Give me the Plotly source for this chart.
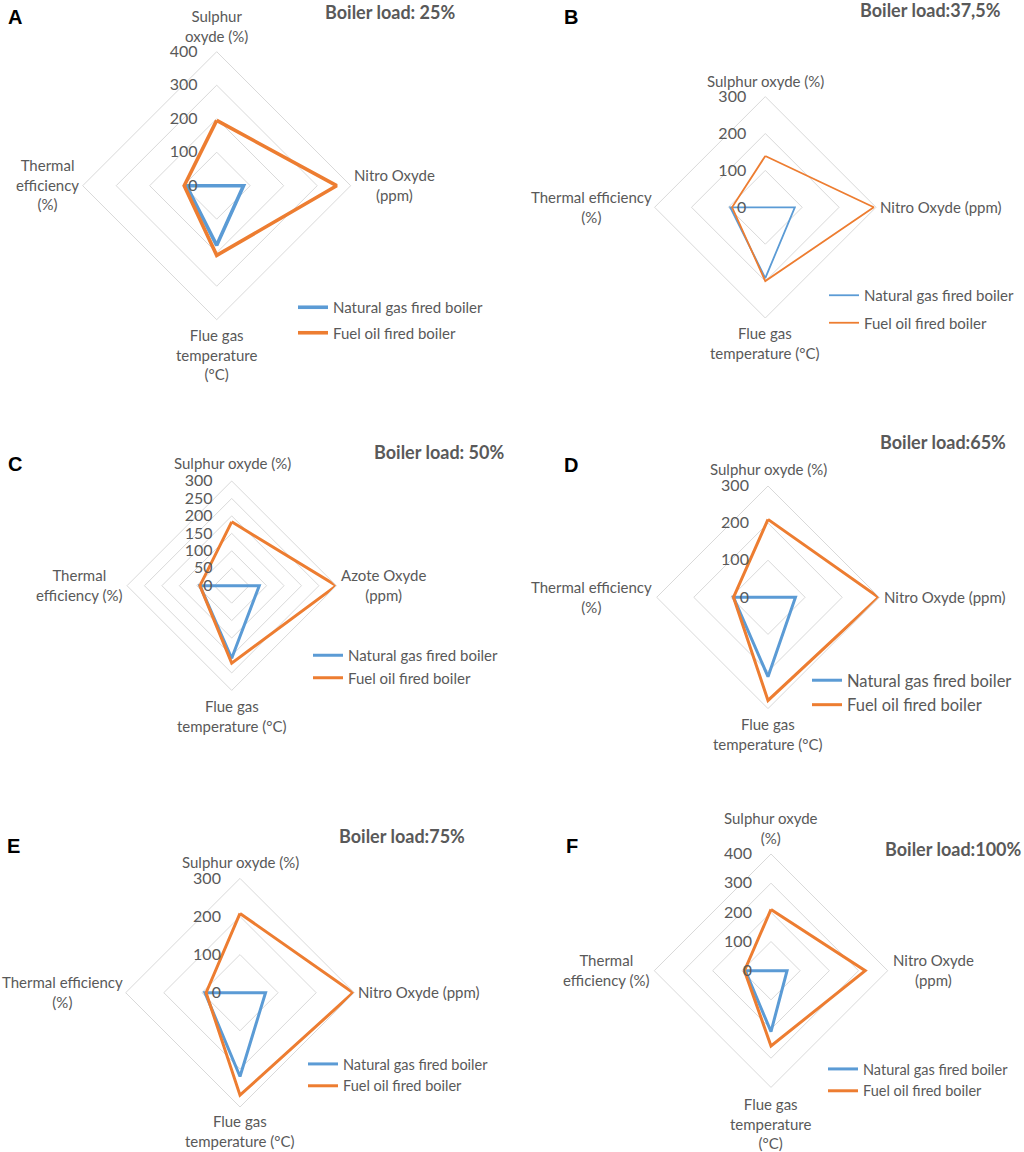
import plotly.graph_objects as go

W, H = 1024, 1152

# ---------------- data ----------------
categories = ["Sulphur oxyde (%)", "Nitro Oxyde (ppm)",
              "Flue gas temperature (°C)", "Thermal efficiency (%)"]
series_names = ["Natural gas fired boiler", "Fuel oil fired boiler"]

panel_letters = ["A", "B", "C", "D", "E", "F"]
panel_titles = ["Boiler load: 25%", "Boiler load:37,5%", "Boiler load: 50%",
                "Boiler load:65%", "Boiler load:75%", "Boiler load:100%"]

gas_A = [0, 80, 178, 90]
oil_A = [195, 358, 208, 97]
gas_B = [0, 80, 192, 95]
oil_B = [139, 294, 200, 90]
gas_C = [0, 79, 208, 91]
oil_C = [183, 300, 222, 91]
gas_D = [0, 74, 214, 93]
oil_D = [210, 298, 278, 93]
gas_E = [0, 67, 220, 92]
oil_E = [208, 297, 269, 89]
gas_F = [0, 55, 209, 88]
oil_F = [210, 323, 258, 91]

radial_max = [400, 300, 300, 300, 300, 400]
radial_step = [100, 100, 50, 100, 100, 100]

# axis label texts per panel (top, right, bottom, left)
axis_labels = [
    ["Sulphur<br>oxyde (%)", "Nitro Oxyde<br>(ppm)", "Flue gas<br>temperature<br>(°C)", "Thermal<br>efficiency<br>(%)"],
    ["Sulphur oxyde (%)", "Nitro Oxyde (ppm)", "Flue gas<br>temperature (°C)", "Thermal efficiency<br>(%)"],
    ["Sulphur oxyde (%)", "Azote Oxyde<br>(ppm)", "Flue gas<br>temperature (°C)", "Thermal<br>efficiency (%)"],
    ["Sulphur oxyde (%)", "Nitro Oxyde (ppm)", "Flue gas<br>temperature (°C)", "Thermal efficiency<br>(%)"],
    ["Sulphur oxyde (%)", "Nitro Oxyde (ppm)", "Flue gas<br>temperature (°C)", "Thermal efficiency<br>(%)"],
    ["Sulphur oxyde<br>(%)", "Nitro Oxyde<br>(ppm)", "Flue gas<br>temperature<br>(°C)", "Thermal<br>efficiency (%)"],
]

gas_all = [gas_A, gas_B, gas_C, gas_D, gas_E, gas_F]
oil_all = [oil_A, oil_B, oil_C, oil_D, oil_E, oil_F]

# ---------------- layout (pixels) ----------------
centers = [(216.7, 185.7), (765.3, 207.3), (231.7, 585.7),
           (768.0, 597.3), (240.0, 992.7), (771.0, 970.7)]
radii = [134, 110.7, 104.7, 111.3, 114.3, 116.7]
line_w = [3.6, 1.8, 3.0, 3.0, 3.0, 3.0]
label_pos = [  # top, right, bottom, left label centres
    [(216.7, 26), (394, 185), (217, 354), (47, 184)],
    [(765, 81), (941, 207), (765, 343), (591, 207)],
    [(232, 463), (383, 585), (232, 716), (79, 585)],
    [(768, 469), (945, 597), (768, 734), (591, 597)],
    [(240, 862), (419, 992), (240, 1131), (62, 992)],
    [(771, 828), (933, 970), (771, 1123), (606, 970)],
]
title_pos = [(390, 12), (930, 10), (439, 452), (943, 442), (402, 836), (953, 849)]
letter_pos = [(15, 17), (571, 17), (15, 464), (571, 465), (13, 846), (572, 846)]
legend_pos = [(293, 291), (824, 279), (308, 639), (807, 663), (303, 1048), (823, 1053)]
legend_gap = [3, 5, 0, 0, 0, 0]
legend_font = [15, 15, 15, 16.5, 14.5, 14.5]

BLUE = "#5B9BD5"
ORANGE = "#ED7D31"
GRID = "#D9D9D9"
TXT = "#595959"
FONT = "Lato, Carlito, Calibri, sans-serif"

fig = go.Figure()
annotations = []
layout_extra = {}

for i in range(6):
    pname = "polar" if i == 0 else f"polar{i+1}"
    lname = "legend" if i == 0 else f"legend{i+1}"
    cx, cy = centers[i]
    r = radii[i]
    for k, (name, vals, col) in enumerate([(series_names[0], gas_all[i], BLUE),
                                           (series_names[1], oil_all[i], ORANGE)]):
        fig.add_trace(go.Scatterpolar(
            r=vals + vals[:1],
            theta=categories + categories[:1],
            mode="lines",
            name=name,
            line=dict(color=col, width=line_w[i]),
            subplot=pname,
            legend=lname,
            legendgroup=f"{lname}_{k}",
            showlegend=True,
        ))
    ticks = list(range(0, radial_max[i] + 1, radial_step[i]))
    layout_extra[pname] = dict(
        domain=dict(x=[(cx - r) / W, (cx + r) / W],
                    y=[1 - (cy + r) / H, 1 - (cy - r) / H]),
        gridshape="linear",
        bgcolor="white",
        angularaxis=dict(
            type="category",
            categoryorder="array",
            categoryarray=categories,
            rotation=90,
            direction="clockwise",
            showline=True,
            linecolor=GRID,
            linewidth=1,
            showgrid=False,
            showticklabels=False,
            ticks="",
        ),
        radialaxis=dict(
            range=[0, radial_max[i]],
            tickvals=ticks,
            angle=90,
            tickangle=90,
            side="counterclockwise",
            showline=False,
            showgrid=True,
            gridcolor=GRID,
            gridwidth=1,
            ticks="outside",
            ticklen=13,
            tickcolor="rgba(0,0,0,0)",
            tickfont=dict(family=FONT, size=16, color=TXT),
        ),
    )
    lx, ly = legend_pos[i]
    layout_extra[lname] = dict(
        x=lx / W, y=1 - ly / H, xanchor="left", yanchor="top",
        bgcolor="rgba(0,0,0,0)",
        font=dict(family=FONT, size=legend_font[i], color=TXT),
        itemwidth=30,
        tracegroupgap=legend_gap[i],
    )
    for (px, py), txt in zip(label_pos[i], axis_labels[i]):
        annotations.append(dict(
            x=px / W, y=1 - py / H, xref="paper", yref="paper",
            text=txt, showarrow=False, xanchor="center", yanchor="middle",
            font=dict(family=FONT, size=15, color=TXT), align="center"))
    tx, ty = title_pos[i]
    annotations.append(dict(
        x=tx / W, y=1 - ty / H, xref="paper", yref="paper",
        text="<b>" + panel_titles[i] + "</b>", showarrow=False,
        xanchor="center", yanchor="middle",
        font=dict(family=FONT, size=18, color=TXT)))
    gx, gy = letter_pos[i]
    annotations.append(dict(
        x=gx / W, y=1 - gy / H, xref="paper", yref="paper",
        text="<b>" + panel_letters[i] + "</b>", showarrow=False,
        xanchor="center", yanchor="middle",
        font=dict(family="Liberation Sans, Arial, sans-serif", size=20, color="black")))

fig.update_layout(
    width=W, height=H,
    margin=dict(l=0, r=0, t=0, b=0),
    paper_bgcolor="white",
    plot_bgcolor="white",
    annotations=annotations,
    **layout_extra,
)

fig.write_html("out.html",
               config={"displayModeBar": False},
               post_script="document.body.style.margin='0';document.body.style.overflow='hidden';")
